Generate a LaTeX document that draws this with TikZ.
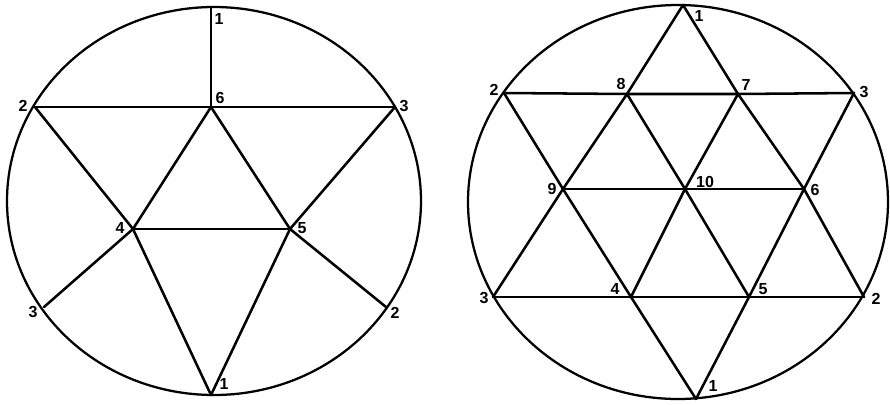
\documentclass[tikz,border=0pt]{standalone}
\usepackage{fontspec}
\setmainfont{Liberation Sans}
\begin{document}
\begin{tikzpicture}[x=0.75pt,y=-0.75pt,
  edge/.style={line width=1.9pt,line cap=round,line join=round},
  rim/.style={line width=1.7pt},
  lbl/.style={font=\bfseries\fontsize{12}{13}\selectfont,inner sep=0pt}]
\useasboundingbox (0,0) rectangle (890,404);
% ---------- left figure ----------
\draw[rim] (214,201) ellipse [x radius=207, y radius=194];
\coordinate (La1) at (211,7);
\coordinate (L6) at (211,107);
\coordinate (La2) at (35,107);
\coordinate (La3) at (395,107);
\coordinate (L4) at (133,229);
\coordinate (L5) at (290,229);
\coordinate (Lb3) at (44,307);
\coordinate (Lb2) at (386,307);
\coordinate (Lb1) at (211,395);
\draw[edge] (La1) -- (L6);
\draw[edge] (La2) -- (L6) -- (La3);
\draw[edge] (La2) -- (L4);
\draw[edge] (La3) -- (L5);
\draw[edge] (L6) -- (L4);
\draw[edge] (L6) -- (L5);
\draw[edge] (L4) -- (L5);
\draw[edge] (L4) -- (Lb3);
\draw[edge] (L5) -- (Lb2);
\draw[edge] (L4) -- (Lb1);
\draw[edge] (L5) -- (Lb1);
\node[lbl] (tLa1) at (219,19) {1};
\node[lbl] (tL6) at (220,98) {6};
\node[lbl] (tLa2) at (23,106) {2};
\node[lbl] (tLa3) at (404,106) {3};
\node[lbl] (tL4) at (120,228) {4};
\node[lbl] (tL5) at (302,228) {5};
\node[lbl] (tLb3) at (33,312) {3};
\node[lbl] (tLb2) at (395,313) {2};
\node[lbl] (tLb1) at (224,384) {1};
% ---------- right figure ----------
\draw[rim] (678,202) ellipse [x radius=210, y radius=197];
\coordinate (Ra1) at (683,5);
\coordinate (Ra2) at (504,93);
\coordinate (R8) at (627,94);
\coordinate (R7) at (738,94);
\coordinate (Ra3) at (854,93);
\coordinate (R9) at (563,189);
\coordinate (R10) at (685,189);
\coordinate (R6) at (804,189);
\coordinate (Rb3) at (493,297);
\coordinate (R4) at (631,297);
\coordinate (R5) at (749,297);
\coordinate (Rb2) at (864,297);
\coordinate (Rb1) at (696,399);
\draw[edge] (Ra1) -- (R8) -- (R9) -- (Rb3);
\draw[edge] (Ra1) -- (R7) -- (R6) -- (Rb2);
\draw[edge] (Rb3) -- (R4) -- (R5) -- (Rb2);
\draw[edge] (Ra2) -- (R8) -- (R7) -- (Ra3);
\draw[edge] (Ra2) -- (R9) -- (R4) -- (Rb1);
\draw[edge] (Ra3) -- (R6) -- (R5) -- (Rb1);
\draw[edge] (R8) -- (R10) -- (R5);
\draw[edge] (R7) -- (R10) -- (R4);
\draw[edge] (R9) -- (R10) -- (R6);
\node[lbl] (tRa1) at (699,16) {1};
\node[lbl] (tRa2) at (494,90) {2};
\node[lbl] (tR8) at (621,84) {8};
\node[lbl] (tR7) at (746,85) {7};
\node[lbl] (tRa3) at (864,92) {3};
\node[lbl] (tR9) at (552,189) {9};
\node[lbl] (tR10) at (705,182) {10};
\node[lbl] (tR6) at (815,190) {6};
\node[lbl] (tRb3) at (484,298) {3};
\node[lbl] (tR4) at (615,289) {4};
\node[lbl] (tR5) at (763,289) {5};
\node[lbl] (tRb2) at (876,299) {2};
\node[lbl] (tRb1) at (713,386) {1};
\end{tikzpicture}
\end{document}
